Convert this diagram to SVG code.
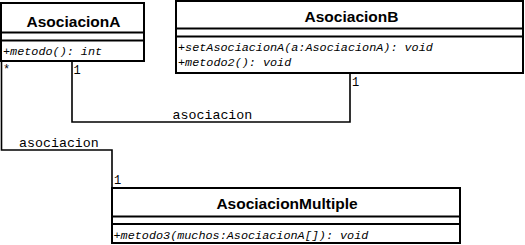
<svg xmlns="http://www.w3.org/2000/svg" width="525" height="245" viewBox="0 0 525 245">
<style>
.box{fill:#fff;stroke:#000;stroke-width:2}
.div{stroke:#000;stroke-width:2}
.title{font-family:"Liberation Sans",Arial,sans-serif;font-weight:bold;font-size:15.5px;text-anchor:middle;fill:#000}
.op{font-family:"Liberation Mono","Courier New",monospace;font-style:italic;font-size:11.8px;fill:#000}
.lbl{font-family:"Liberation Mono","Courier New",monospace;font-size:13.3px;fill:#000}
.mult{font-family:"Liberation Mono","Courier New",monospace;font-size:12px;fill:#000}
.conn{fill:none;stroke:#000;stroke-width:1.6}
</style>
<rect width="525" height="245" fill="#fff"/>
<g id="connectors">
<polyline class="conn" points="72,61 72,122 350,122 350,73"/>
<polyline class="conn" points="1.5,61 1.5,150 112,150 112,188"/>
<text class="lbl" x="172.5" y="118.5">asociacion</text>
<text class="lbl" x="19" y="147">asociacion</text>
<text class="mult" x="3" y="73">*</text>
<text class="mult" x="73.5" y="74">1</text>
<text class="mult" x="352" y="85.5">1</text>
<text class="mult" x="114" y="184">1</text>
</g>
<g id="AsociacionA">
<rect class="box" x="1" y="3" width="143" height="58"/>
<line class="div" x1="1" y1="32.5" x2="144" y2="32.5"/>
<line class="div" x1="1" y1="40.5" x2="144" y2="40.5"/>
<text class="title" x="73.5" y="26.5">AsociacionA</text>
<text class="op" x="3" y="55">+metodo(): int</text>
</g>
<g id="AsociacionB">
<rect class="box" x="176" y="1" width="347" height="72"/>
<line class="div" x1="176" y1="28.5" x2="523" y2="28.5"/>
<line class="div" x1="176" y1="36.5" x2="523" y2="36.5"/>
<text class="title" x="351.5" y="21.5">AsociacionB</text>
<text class="op" x="178" y="51">+setAsociacionA(a:AsociacionA): void</text>
<text class="op" x="178" y="66">+metodo2(): void</text>
</g>
<g id="AsociacionMultiple">
<rect class="box" x="112" y="188" width="348" height="55"/>
<line class="div" x1="112" y1="216.5" x2="460" y2="216.5"/>
<line class="div" x1="112" y1="224" x2="460" y2="224"/>
<text class="title" x="287" y="208.5">AsociacionMultiple</text>
<text class="op" x="113.5" y="239">+metodo3(muchos:AsociacionA[]): void</text>
</g>
</svg>
